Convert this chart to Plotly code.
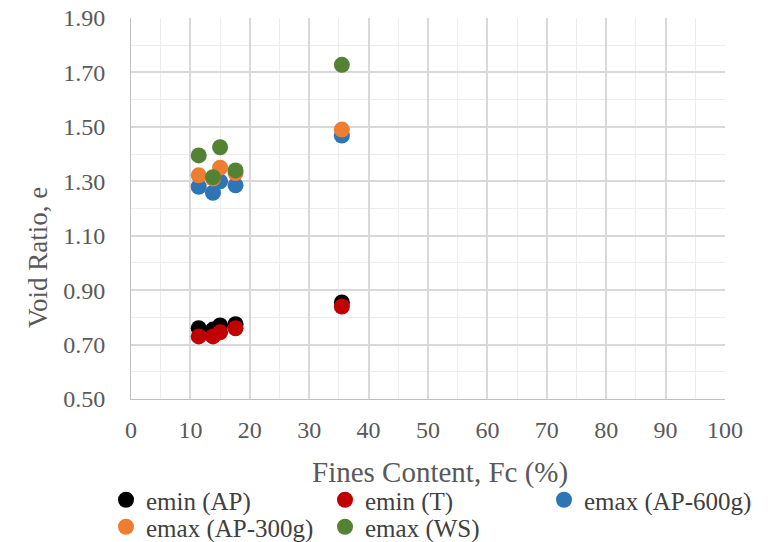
import plotly.graph_objects as go

fc = [11.4, 13.8, 15.0, 17.6, 35.5]
emin_ap = [0.760, 0.755, 0.770, 0.775, 0.855]
emin_t = [0.730, 0.730, 0.745, 0.760, 0.840]
emax_ap600 = [1.280, 1.258, 1.300, 1.285, 1.468]
emax_ap300 = [1.322, 1.310, 1.350, 1.330, 1.490]
emax_ws = [1.395, 1.315, 1.425, 1.340, 1.728]

series = [
    ("emin (AP)", emin_ap, "#000000", "legend"),
    ("emin (T)", emin_t, "#C00000", "legend"),
    ("emax (AP-600g)", emax_ap600, "#2E75B6", "legend"),
    ("emax (AP-300g)", emax_ap300, "#ED7D31", "legend2"),
    ("emax (WS)", emax_ws, "#548235", "legend2"),
]

fig = go.Figure()
for name, ys, col, lg in series:
    fig.add_trace(go.Scatter(x=fc, y=ys, mode="markers", name=name, legend=lg,
                             marker=dict(color=col, size=16, line=dict(width=0))))

ff = "Liberation Serif, Times New Roman, serif"
L, R, T, B = 131, 59, 18, 143
W, H = 784, 542
ph = H - T - B
pw = W - L - R


def px_x(p):
    return (p - L) / pw


def px_y(p):
    return (H - B - p) / ph


leg_common = dict(orientation="h", xanchor="left", yanchor="middle",
                  font=dict(size=25, color="#404040", family=ff),
                  entrywidth=174, entrywidthmode="pixels",
                  itemwidth=30, bgcolor="rgba(0,0,0,0)", borderwidth=0)

fig.update_layout(
    width=W, height=H,
    margin=dict(l=L, r=R, t=T, b=B, autoexpand=False),
    paper_bgcolor="white", plot_bgcolor="white",
    font=dict(family=ff, color="#595959", size=24),
    showlegend=True,
    legend=dict(x=px_x(106), y=px_y(500), **leg_common),
    legend2=dict(x=px_x(106), y=px_y(527), **leg_common),
    annotations=[
        dict(text="Fines Content, Fc (%)", xref="paper", yref="paper",
             x=px_x(440), y=px_y(472), xanchor="center", yanchor="middle",
             showarrow=False, font=dict(size=29, color="#595959", family=ff)),
        dict(text="Void Ratio, e", xref="paper", yref="paper",
             x=px_x(38), y=px_y(258), xanchor="center", yanchor="middle", textangle=-90,
             showarrow=False, font=dict(size=27, color="#595959", family=ff)),
    ],
)

fig.update_xaxes(range=[0, 100], dtick=10, tick0=0, showgrid=True, gridcolor="#D9D9D9", gridwidth=1.5,
                 minor=dict(dtick=5, showgrid=True, gridcolor="#EDEDED", gridwidth=1),
                 showline=True, linecolor="#BFBFBF", linewidth=1, zeroline=False,
                 ticks="", ticklabelstandoff=9, fixedrange=True)
fig.update_yaxes(range=[0.5, 1.9], dtick=0.2, tick0=0.5, tickformat=".2f", showgrid=True,
                 gridcolor="#D9D9D9", gridwidth=1.5,
                 minor=dict(dtick=0.1, showgrid=True, gridcolor="#EDEDED", gridwidth=1),
                 showline=True, linecolor="#BFBFBF", linewidth=1, zeroline=False,
                 ticks="", ticklabelstandoff=20, fixedrange=True)

fig.write_html("out.html")
